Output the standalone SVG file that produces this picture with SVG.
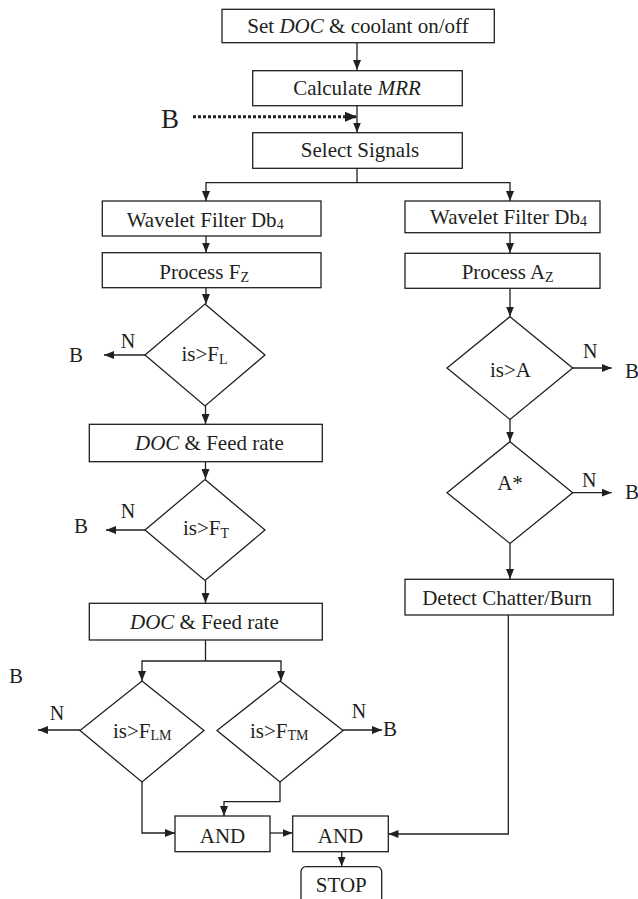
<svg xmlns="http://www.w3.org/2000/svg" width="638" height="899" viewBox="0 0 638 899">
<style>
  .box { fill: #fff; stroke: #231f20; stroke-width: 1.3; }
  .ln { fill: none; stroke: #231f20; stroke-width: 1.3; marker-end: url(#ah); }
  .ln0 { fill: none; stroke: #231f20; stroke-width: 1.3; }
  text { font-family: "Liberation Serif", "DejaVu Serif", "Times New Roman", serif; font-size: 21px; fill: #231f20; }
  .c { text-anchor: middle; }
  .sub { font-size: 14px; }
  .it { font-style: italic; }
</style>
<defs>
  <marker id="ah" viewBox="0 0 10 8" refX="10" refY="4" markerWidth="10" markerHeight="8" markerUnits="userSpaceOnUse" orient="auto">
    <path d="M0,0 L10,4 L0,8 z" fill="#231f20"/>
  </marker>
  <marker id="ahb" viewBox="0 0 4 3.3" refX="4" refY="1.65" markerWidth="12" markerHeight="10" markerUnits="userSpaceOnUse" orient="auto">
    <path d="M0,0 L4,1.65 L0,3.3 z" fill="#231f20"/>
  </marker>
</defs>

<g id="connectors">
  <path class="ln" d="M357,43 V70"/>
  <path class="ln" d="M357,106 V132.5"/>
  <path d="M193,116.7 H357" fill="none" stroke="#231f20" stroke-width="3" stroke-dasharray="3,2" marker-end="url(#ahb)"/>
  <path class="ln0" d="M357,168 V182.7"/>
  <path class="ln" d="M357,182.7 H206 V201"/>
  <path class="ln" d="M357,182.7 H510 V201"/>
  <path class="ln" d="M206,236 V252.5"/>
  <path class="ln" d="M206,288 V304"/>
  <path class="ln" d="M145,355 H104"/>
  <path class="ln" d="M205.5,406 V424"/>
  <path class="ln" d="M205.5,462 V479"/>
  <path class="ln" d="M145,530 H106"/>
  <path class="ln" d="M205.5,580.5 V603"/>
  <path class="ln0" d="M205.5,640 V661"/>
  <path class="ln" d="M205.5,661 H142 V681"/>
  <path class="ln" d="M205.5,661 H281 V681"/>
  <path class="ln" d="M80,730 H38"/>
  <path class="ln" d="M343,730 H382"/>
  <path class="ln" d="M142,782 V833 H175"/>
  <path class="ln" d="M280,782 V801.7 H224 V816"/>
  <path class="ln" d="M270,833 H292.5"/>
  <path class="ln" d="M508.3,615 V834 H388.5"/>
  <path class="ln" d="M341.7,852 V866.5"/>
  <path class="ln" d="M510,233 V253"/>
  <path class="ln" d="M510,288.5 V316.5"/>
  <path class="ln" d="M572.7,368 H611.7"/>
  <path class="ln" d="M510,419.5 V441.5"/>
  <path class="ln" d="M572.7,492.7 H611.7"/>
  <path class="ln" d="M510,543.5 V579"/>
</g>

<g id="set-doc">
  <rect class="box" x="222" y="9.3" width="272.3" height="33.4"/>
  <text x="358" y="33" class="c">Set <tspan class="it">DOC</tspan> &amp; coolant on/off</text>
</g>
<g id="calc-mrr">
  <rect class="box" x="252.7" y="70.7" width="209.6" height="35"/>
  <text x="357" y="95" class="c">Calculate <tspan class="it">MRR</tspan></text>
</g>
<g id="b-top">
  <text x="161" y="128" style="font-size:27px">B</text>
</g>
<g id="select-signals">
  <rect class="box" x="252.7" y="132.7" width="209.6" height="35.6"/>
  <text x="360" y="157" class="c">Select Signals</text>
</g>

<g id="wavelet-left">
  <rect class="box" x="102.3" y="201" width="218.7" height="35"/>
  <text x="126.7" y="226.5">Wavelet Filter Db<tspan class="sub" dy="2">4</tspan></text>
</g>
<g id="process-fz">
  <rect class="box" x="102.3" y="252.7" width="218.7" height="35"/>
  <text x="159.3" y="279">Process F<tspan class="sub" dy="3">Z</tspan></text>
</g>
<g id="dec-fl">
  <polygon class="box" points="205,304 265,355 205,406 145,355"/>
  <text x="181.5" y="361">is&gt;F<tspan class="sub" dy="3">L</tspan></text>
  <text x="128" y="348" class="c" style="font-size:20px">N</text>
  <text x="69" y="362">B</text>
</g>
<g id="doc-feed-1">
  <rect class="box" x="89.3" y="424.3" width="233" height="37.4"/>
  <text x="135" y="450"><tspan class="it">DOC</tspan> &amp; Feed rate</text>
</g>
<g id="dec-ft">
  <polygon class="box" points="205,479.5 265,530 205,580.5 145,530"/>
  <text x="183" y="535">is&gt;F<tspan class="sub" dy="3">T</tspan></text>
  <text x="128" y="518" class="c" style="font-size:20px">N</text>
  <text x="74" y="533">B</text>
</g>
<g id="doc-feed-2">
  <rect class="box" x="89.3" y="603.3" width="233" height="36.7"/>
  <text x="130" y="629"><tspan class="it">DOC</tspan> &amp; Feed rate</text>
</g>
<g id="b-lone">
  <text x="9" y="683">B</text>
</g>
<g id="dec-flm">
  <polygon class="box" points="142,681 204,730.5 142,782 80,730.5"/>
  <text x="113" y="738">is&gt;F<tspan class="sub" dy="2">LM</tspan></text>
  <text x="57" y="720" class="c" style="font-size:20px">N</text>
</g>
<g id="dec-ftm">
  <polygon class="box" points="280,681 343,730.5 280,782 217,730.5"/>
  <text x="250" y="738">is&gt;F<tspan class="sub" dy="2">TM</tspan></text>
  <text x="359" y="718" class="c" style="font-size:20px">N</text>
  <text x="383" y="736">B</text>
</g>
<g id="and-1">
  <rect class="box" x="175" y="816" width="95" height="35.7"/>
  <text x="222.5" y="842.5" class="c">AND</text>
</g>
<g id="and-2">
  <rect class="box" x="292.7" y="816" width="95.6" height="35.7"/>
  <text x="340.5" y="842.5" class="c">AND</text>
</g>
<g id="stop">
  <rect class="box" x="301" y="866.7" width="80.7" height="45" rx="5" ry="5"/>
  <text x="341.3" y="892" class="c">STOP</text>
</g>

<g id="wavelet-right">
  <rect class="box" x="405" y="201" width="195" height="31.7"/>
  <text x="430" y="224">Wavelet Filter Db<tspan class="sub" dy="2">4</tspan></text>
</g>
<g id="process-az">
  <rect class="box" x="405" y="253.3" width="195" height="35"/>
  <text x="461.7" y="279">Process A<tspan class="sub" dy="3">Z</tspan></text>
</g>
<g id="dec-a">
  <polygon class="box" points="510,316.7 572.7,368 510,419.5 447,368"/>
  <text x="510.5" y="376.5" class="c">is&gt;A</text>
  <text x="583" y="358" style="font-size:20px">N</text>
  <text x="625" y="378">B</text>
</g>
<g id="dec-astar">
  <polygon class="box" points="510,441.7 572.7,492.7 510,543.5 447,492.7"/>
  <text x="510" y="490" class="c">A*</text>
  <text x="582" y="486.5" style="font-size:20px">N</text>
  <text x="625" y="499">B</text>
</g>
<g id="detect">
  <rect class="box" x="405" y="579.3" width="208.3" height="35.7"/>
  <text x="507" y="605" class="c">Detect Chatter/Burn</text>
</g>
</svg>
